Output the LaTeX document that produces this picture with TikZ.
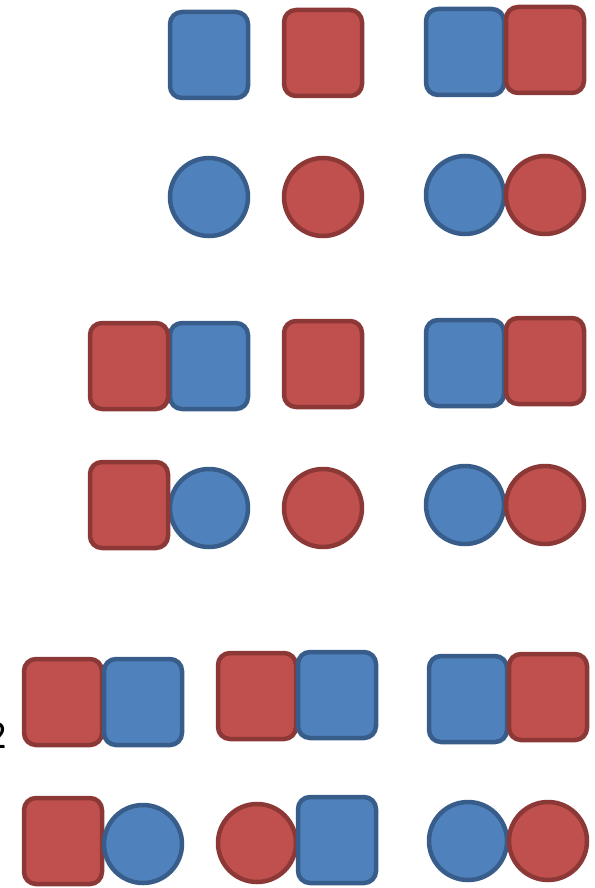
\documentclass[tikz,border=0pt]{standalone}
\usepackage{fontspec}
\setmainfont{Carlito}
\definecolor{bfill}{HTML}{4F81BD}
\definecolor{bline}{HTML}{385D8A}
\definecolor{rfill}{HTML}{C0504D}
\definecolor{rline}{HTML}{8C3836}
\tikzset{
  sq/.style={rectangle, rounded corners=12pt, minimum width=78pt, minimum height=86pt, line width=4.5pt, inner sep=0pt},
  ci/.style={circle, minimum size=78pt, line width=4.5pt, inner sep=0pt},
  bl/.style={fill=bfill, draw=bline},
  rd/.style={fill=rfill, draw=rline},
}
\begin{document}
\begin{tikzpicture}[x=1pt,y=-1pt]
\useasboundingbox (0,0) rectangle (594,888);
% row 1
\node[sq,bl] (s1a) at (209,55) {};
\node[sq,rd] (s1b) at (323,53) {};
\node[sq,bl] (s1c) at (465,52) {};
\node[sq,rd] (s1d) at (545,50) {};
% row 2
\node[ci,bl] (c2a) at (209,197) {};
\node[ci,rd] (c2b) at (323,197) {};
\node[ci,bl] (c2c) at (465,195) {};
\node[ci,rd] (c2d) at (545,195) {};
% row 3
\node[sq,bl] (s3b) at (209,366) {};
\node[sq,rd] (s3a) at (129,366) {};
\node[sq,rd] (s3c) at (323,364) {};
\node[sq,bl] (s3d) at (465,363) {};
\node[sq,rd] (s3e) at (545,361) {};
% row 4
\node[ci,bl] (c4b) at (209,508) {};
\node[sq,rd] (s4a) at (129,505) {};
\node[ci,rd] (c4c) at (323,508) {};
\node[ci,bl] (c4d) at (465,505) {};
\node[ci,rd] (c4e) at (545,505) {};
% row 5
\node[sq,rd] (s5a) at (63,702) {};
\node[sq,bl] (s5b) at (143,702) {};
\node[sq,rd] (s5c) at (257,696) {};
\node[sq,bl] (s5d) at (337,695) {};
\node[sq,bl] (s5e) at (468,699) {};
\node[sq,rd] (s5f) at (548,697) {};
% row 6
\node[sq,rd] (s6a) at (63,841) {};
\node[ci,bl] (c6b) at (143,844) {};
\node[ci,rd] (c6c) at (257,843) {};
\node[sq,bl] (s6d) at (337,840) {};
\node[ci,bl] (c6e) at (468,841) {};
\node[ci,rd] (c6f) at (548,841) {};
% label
\node[anchor=east, font=\fontsize{40pt}{44pt}\selectfont, inner sep=0pt] (lab) at (7,736) {2};
\end{tikzpicture}
\end{document}
